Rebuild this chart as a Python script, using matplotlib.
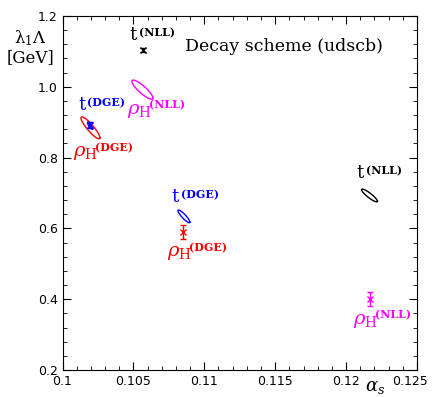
import numpy as np
import matplotlib as mpl
from matplotlib import pyplot as plt
from matplotlib.transforms import offset_copy, ScaledTranslation

mpl.rcParams['mathtext.fontset'] = 'dejavuserif'

# ellipses: centre, half-extent in x and y, correlation
ell_x = [0.10563, 0.10197, 0.10194, 0.10856, 0.12165]
ell_y = [0.992, 0.884, 0.890, 0.634, 0.693]
ell_sx = [0.00074, 0.00067, 0.00018, 0.00042, 0.00056]
ell_sy = [0.027, 0.031, 0.010, 0.018, 0.018]
ell_rho = [-0.87, -0.9, -0.85, -0.9, -0.9]
ell_col = ['magenta', 'red', 'blue', 'blue', 'black']

# error-bar points
pt_x = [0.10567, 0.10194, 0.10849, 0.12165]
pt_y = [1.104, 0.892, 0.590, 0.400]
pt_err = [0.007, 0.008, 0.020, 0.020]
pt_col = ['black', 'blue', 'red', 'magenta']

# labels: main symbol + scheme tag
lab_main = ['t', r'$\rho_{\mathrm{H}}$', 't', r'$\rho_{\mathrm{H}}$',
            't', r'$\rho_{\mathrm{H}}$', 't', r'$\rho_{\mathrm{H}}$']
lab_tag = ['(NLL)', '(NLL)', '(DGE)', '(DGE)', '(DGE)', '(DGE)', '(NLL)', '(NLL)']
lab_x = [0.10475, 0.10454, 0.10109, 0.10074, 0.10771, 0.10736, 0.12074, 0.12046]
lab_y = [1.146, 0.934, 0.949, 0.813, 0.689, 0.531, 0.756, 0.341]
lab_col = ['black', 'magenta', 'blue', 'red', 'blue', 'red', 'black', 'magenta']

fig = plt.figure(figsize=(4.32, 3.97), dpi=100)
ax = fig.add_axes([0.1447, 0.068, 0.8206, 0.8917])

t = np.linspace(0, 2*np.pi, 200)
for cx, cy, sx, sy, r, c in zip(ell_x, ell_y, ell_sx, ell_sy, ell_rho, ell_col):
    th = np.arccos(r)
    ax.plot(cx + sx*np.cos(t), cy + sy*np.cos(t + th), color=c, lw=1.0)

for x, y, e, c in zip(pt_x, pt_y, pt_err, pt_col):
    ax.errorbar(x, y, yerr=e, fmt='x', color=c, ms=5, mew=1.0, capsize=2.5, elinewidth=1.0)

for m, tag, x, y, c in zip(lab_main, lab_tag, lab_x, lab_y, lab_col):
    if m == 't':
        ax.text(x, y, m, color=c, fontsize=13, family='DejaVu Serif', ha='left', va='center')
        tr = offset_copy(ax.transData, fig=fig, x=9, y=2, units='dots')
    else:
        ax.text(x, y, m, color=c, fontsize=14, ha='left', va='center')
        tr = offset_copy(ax.transData, fig=fig, x=22, y=5, units='dots')
    ax.text(x, y, tag, color=c, fontsize=8, weight='bold', family='DejaVu Serif',
            ha='left', va='center', transform=tr)

ax.text(0.10863, 1.115, 'Decay scheme (udscb)', fontsize=12.5, family='DejaVu Serif',
        va='center')

ax.set_xlim(0.1, 0.125)
ax.set_ylim(0.2, 1.2)
ax.set_xticks([0.1, 0.105, 0.11, 0.115, 0.12, 0.125])
ax.set_xticklabels(['0.1', '0.105', '0.11', '0.115', '0.12', '0.125'])
ax.set_yticks([0.2, 0.4, 0.6, 0.8, 1.0, 1.2])
ax.set_yticklabels(['0.2', '0.4', '0.6', '0.8', '1.0', '1.2'])
ax.xaxis.set_minor_locator(mpl.ticker.MultipleLocator(0.001))
ax.yaxis.set_minor_locator(mpl.ticker.MultipleLocator(0.04))
ax.tick_params(which='both', direction='in', top=True, right=True, labelsize=9)
ax.tick_params(which='major', length=6)
ax.tick_params(which='minor', length=3)

# nudge the last x label left so it stays inside the figure
last = ax.get_xticklabels()[-1]
last.set_transform(last.get_transform() + ScaledTranslation(-0.07, 0, fig.dpi_scale_trans))

fig.text(375/432, 1 - 387/397, r'$\alpha_s$', fontsize=13, ha='center', va='center')
fig.text(30/432, 1 - 38/397, r'λ$_1$Λ', fontsize=12, ha='center', va='center',
         family='DejaVu Serif')
fig.text(30/432, 1 - 58/397, '[GeV]', fontsize=12, ha='center', va='center',
         family='DejaVu Serif')

fig.savefig('out.png', dpi=100)
